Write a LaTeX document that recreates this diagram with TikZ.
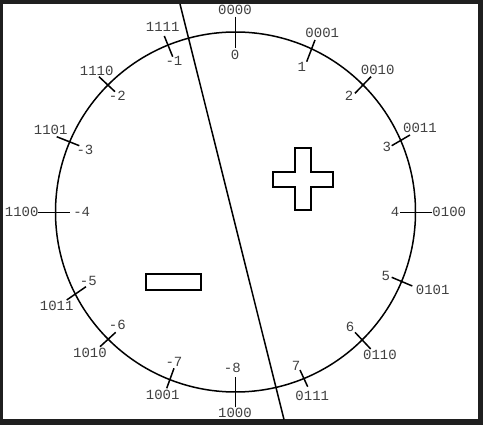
\documentclass[tikz,border=0pt]{standalone}
\usepackage{fontspec}
\setmonofont{Liberation Mono}
\usetikzlibrary{positioning}

\begin{document}
\begin{tikzpicture}[x=1pt, y=-1pt]
    \tikzset{
        code/.style={font=\ttfamily\fontsize{14}{14}\selectfont, text=black!75, inner sep=0pt},
        tick/.style={draw, line width=1.5pt},
        wheel/.style={draw, circle, line width=1.5pt, minimum size=360pt, inner sep=0pt},
        sign/.style={draw, line width=2pt},
        split/.style={draw, line width=1.5pt}
    }

    % Dark frame round the page
    \fill[black!88] (0,0) rectangle (483,425);
    \fill[white] (3,4) rectangle (477.5,419.5);
    \useasboundingbox (0,0) rectangle (483,425);

    % The number wheel
    \node[wheel] (wheel) at (235.5,212) {};

    % Codes, values and ticks round the wheel
    \foreach \n/\bin/\dec/\bx/\by/\ox/\oy/\ix/\iy/\dx/\dy in {
        0/0000/0/235/10/235.3/16.7/235.3/47.7/235/55,
        1/0001/1/322.3/32.7/315/40/306.7/61.7/301.7/67.3,
        2/0010/2/377.7/70/371/76.7/355/93.3/349/95.7,
        3/0011/3/420/127.7/410/135/391.7/145.7/386.7/146.7,
        4/0100/4/449.3/212.3/432.3/212.3/400/212.3/395/212.3,
        5/0101/5/432.7/290/412.3/286/391.7/277.3/385.7/276,
        6/0110/6/380/355/370.7/349/355/332.3/350/326.7,
        7/0111/7/312.3/396/307.7/386.7/300/370/296/365.7,
        8/1000/-8/235/413.3/235.3/407.3/235.3/377.3/232.3/368.3,
        9/1001/-7/162.7/395/166.7/388.3/174/368.3/174/361.7,
        10/1010/-6/90/352.7/100/346.7/115.7/332.3/117.3/325,
        11/1011/-5/56.7/306/66.7/300/86/286.7/88.3/280.7,
        12/1100/-4/21.7/212.3/38.3/212.3/70/212.3/81.7/212.3,
        13/1101/-3/50.7/130/56.7/136.7/79.3/145.7/85/150,
        14/1110/-2/96.7/71/99/76.7/115/91.7/117.3/95.7,
        15/1111/-1/162.7/26.7/164.3/36/172.7/56.7/174/61}
    {
        \node[code] (b\n) at (\bx,\by) {\bin};
        \node[code] (d\n) at (\dx,\dy) {\dec};
        \coordinate (o\n) at (\ox,\oy);
        \coordinate (i\n) at (\ix,\iy);
        \path[tick] (o\n) -- (i\n);
    }

    % Line between the signs
    \coordinate (cuttop) at (180,4);
    \coordinate (cutbot) at (284,419.5);
    \path[split] (cuttop) -- (cutbot);

    % Plus and minus
    \draw[sign] (295,148) -- (311,148) -- (311,172) -- (333,172) -- (333,187)
        -- (311,187) -- (311,210) -- (295,210) -- (295,187) -- (273,187)
        -- (273,172) -- (295,172) -- cycle;
    \draw[sign] (146,274.5) rectangle (200.5,290.5);

\end{tikzpicture}
\end{document}
